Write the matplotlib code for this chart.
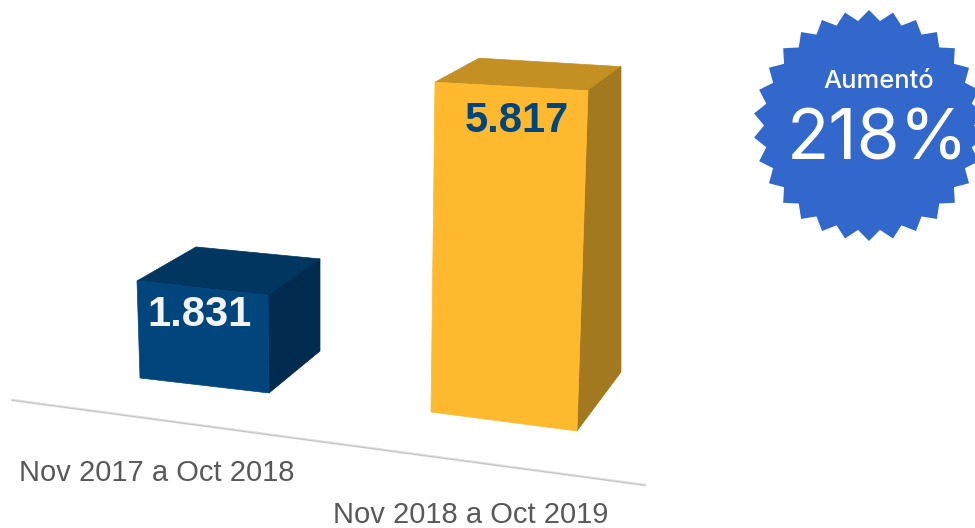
import numpy as np
import matplotlib
matplotlib.use("Agg")
import matplotlib.pyplot as plt

# chart values
periods = ["Nov 2017 a Oct 2018", "Nov 2018 a Oct 2019"]
values = [1831, 5817]
value_labels = ["1.831", "5.817"]
badge_top = "Aumentó"
badge_big = "218%"

front_colors = ["#00457c", "#ffb92e"]
top_colors = ["#003660", "#c49024"]
side_colors = ["#002b4f", "#a2791e"]
value_colors = ["#f2f2f2", "#00457c"]

# the bars are a fake 3d perspective, layout in pixels:
# bottom corners of the front face + far right corner, then pixels per unit for each edge
bar_base = [
    {"bl": (140, 378), "br": (269, 393), "far": (320, 351), "back_dx": 59, "back_dy": -34},
    {"bl": (431, 412), "br": (577, 431), "far": (621, 372), "back_dx": 44, "back_dy": -24},
]
bar_scale = [
    {"bl": 0.0530, "br": 0.0533, "far": 0.0503, "tl_dx": -3, "tr_dx": -1},
    {"bl": 0.0567, "br": 0.0585, "far": 0.0525, "tl_dx": 4, "tr_dx": 11},
]
value_pos = [(200, 315), (517, 121)]
period_pos = [(157, 473), (471, 515)]

fig = plt.figure(figsize=(9.75, 5.28), dpi=100)
ax = fig.add_axes([0, 0, 1, 1])
ax.set_xlim(0, 975)
ax.set_ylim(528, 0)
ax.axis("off")

# floor line
ax.plot([12, 645], [400, 485], color="#dddddd", lw=1.8, solid_capstyle="round", zorder=1)
ax.plot([12, 645], [400.3, 485.3], color="#bdbdbd", lw=0.5, zorder=1)

for i, val in enumerate(values):
    b = bar_base[i]
    s = bar_scale[i]
    tl = (b["bl"][0] + s["tl_dx"], b["bl"][1] - val * s["bl"])
    tr = (b["br"][0] + s["tr_dx"], b["br"][1] - val * s["br"])
    tf = (b["far"][0], b["far"][1] - val * s["far"])
    tb = (tl[0] + b["back_dx"], tl[1] + b["back_dy"])

    ax.fill(*zip(tl, tb, tf, tr), color=top_colors[i], lw=0.5, zorder=2)
    ax.fill(*zip(tr, tf, b["far"], b["br"]), color=side_colors[i], lw=0.5, zorder=2)
    ax.fill(*zip(tl, tr, b["br"], b["bl"]), color=front_colors[i], lw=0.5, zorder=3)

    ax.text(value_pos[i][0], value_pos[i][1], value_labels[i], color=value_colors[i],
            fontsize=30, fontweight="bold", family="Liberation Sans", ha="center", va="center", zorder=4)
    ax.text(period_pos[i][0], period_pos[i][1], periods[i], color="#595959",
            fontsize=21, family="Liberation Sans", ha="center", va="center", zorder=4)

# badge
n_points = 30
angles = np.pi / 2 + np.arange(2 * n_points) * np.pi / n_points
radii = np.where(np.arange(2 * n_points) % 2 == 0, 115.5, 105)
ax.fill(869 + radii * np.cos(angles), 125.5 - radii * np.sin(angles), color="#3268cc", lw=0, zorder=2)
ax.text(878.5, 81, badge_top, color="white", fontsize=18.4, fontweight="medium", family="Inter",
        ha="center", va="center", zorder=4)
ax.text(877.5, 141, badge_big, color="white", fontsize=50, family="Inter", ha="center", va="center", zorder=4)

fig.savefig("out.png", dpi=100)
